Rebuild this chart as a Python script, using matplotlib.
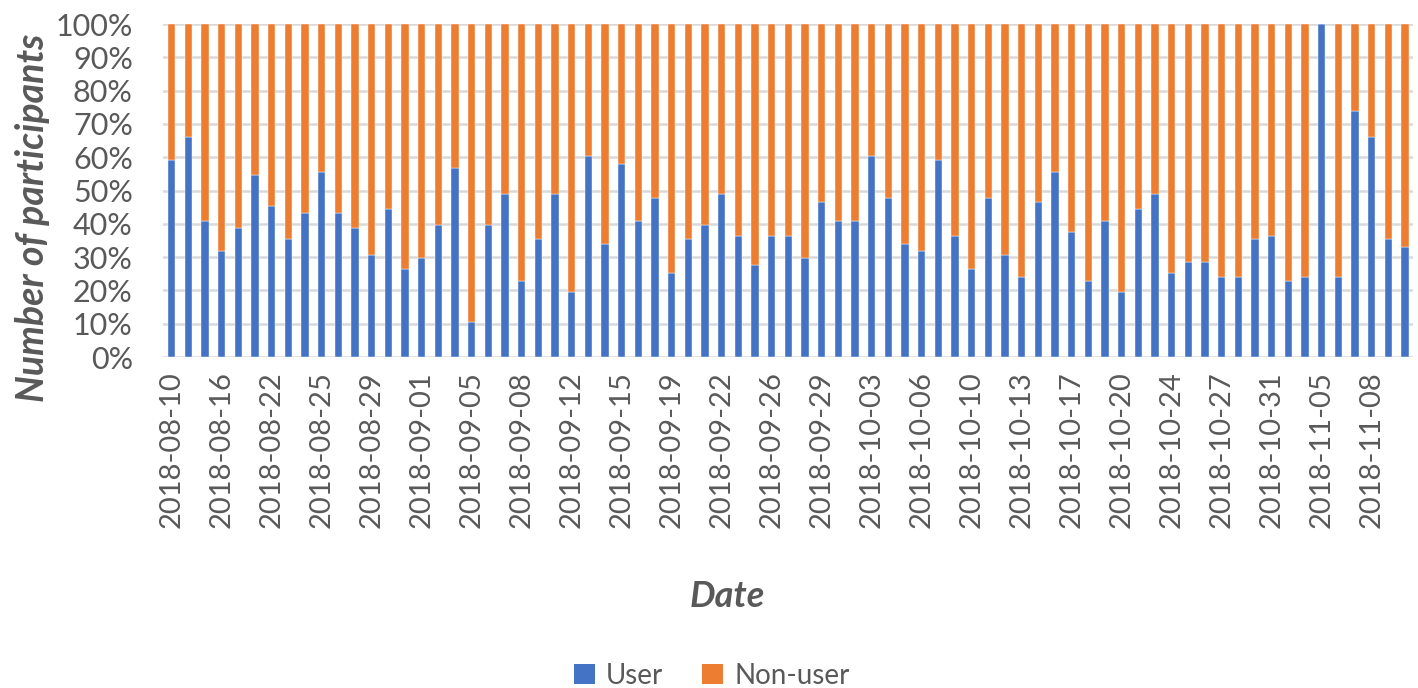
"""
Daily share of users vs non-users among participants, stacked to 100%.
"""

import numpy as np
import matplotlib
matplotlib.use("Agg")
import matplotlib.pyplot as plt
from matplotlib.patches import Patch


# ─────────────────────────────────────────────
# Data
# ─────────────────────────────────────────────

# share of participants who are users, one value per survey day (%)
user_pct = [
    59.2, 66.0, 41.0, 32.0, 38.7, 54.6, 45.5, 35.4, 43.4, 55.7,
    43.4, 38.7, 30.8, 44.4, 26.3, 29.7, 39.8, 56.9, 10.4, 39.8,
    49.0, 22.8, 35.4, 49.0, 19.4, 60.3, 34.1, 58.1, 41.0, 47.9,
    25.1, 35.4, 39.8, 49.0, 36.5, 27.5, 36.5, 36.5, 29.7, 46.7,
    41.0, 41.0, 60.3, 47.9, 34.1, 32.0, 59.2, 36.5, 26.3, 47.9,
    30.8, 24.0, 46.7, 55.7, 37.7, 22.8, 41.0, 19.4, 44.4, 49.0,
    25.1, 28.5, 28.5, 24.0, 24.0, 35.4, 36.5, 22.8, 24.0, 100.0,
    24.0, 74.0, 66.0, 35.4, 33.1,
]
non_user_pct = [100.0 - v for v in user_pct]

# dates shown on the category axis (every third survey day)
date_labels = [
    "2018-08-10", "2018-08-16", "2018-08-22", "2018-08-25", "2018-08-29",
    "2018-09-01", "2018-09-05", "2018-09-08", "2018-09-12", "2018-09-15",
    "2018-09-19", "2018-09-22", "2018-09-26", "2018-09-29", "2018-10-03",
    "2018-10-06", "2018-10-10", "2018-10-13", "2018-10-17", "2018-10-20",
    "2018-10-24", "2018-10-27", "2018-10-31", "2018-11-05", "2018-11-08",
]
label_step = 3

series_names = ["User", "Non-user"]


# ─────────────────────────────────────────────
# Style
# ─────────────────────────────────────────────

BLUE = "#4472C4"
ORANGE = "#ED7D31"
GRID = "#D9D9D9"
TEXT = "#595959"

plt.rcParams["font.family"] = ["Lato", "DejaVu Sans"]


# ─────────────────────────────────────────────
# Plot
# ─────────────────────────────────────────────

def main():
    n = len(user_pct)
    x = np.arange(n)

    fig = plt.figure(figsize=(14.18, 6.88), dpi=100)
    ax = fig.add_axes([0.1152, 0.481, 0.8815, 0.484])

    ax.bar(x, user_pct, width=0.45, color=BLUE, edgecolor="white", linewidth=0.3, zorder=3)
    ax.bar(x, non_user_pct, width=0.45, bottom=user_pct, color=ORANGE,
           edgecolor="white", linewidth=0.3, zorder=3)

    ax.set_xlim(-0.5, n - 0.5)
    ax.set_ylim(0, 100)

    ax.set_yticks(np.arange(0, 101, 10))
    ax.set_yticklabels([f"{v}%" for v in range(0, 101, 10)])
    ax.yaxis.grid(True, color=GRID, linewidth=1.8, zorder=0)
    ax.set_axisbelow(True)

    tick_pos = x[::label_step]
    ax.set_xticks(tick_pos)
    ax.set_xticklabels(date_labels, rotation=90)

    ax.tick_params(axis="both", length=0, colors=TEXT)
    ax.tick_params(axis="x", pad=10, labelsize=21)
    ax.tick_params(axis="y", pad=22, labelsize=22)

    for spine in ax.spines.values():
        spine.set_visible(False)

    fig.text(0.023, 0.683, "Number of participants", fontsize=27, fontweight="bold",
             fontstyle="italic", color=TEXT, ha="center", va="center", rotation=90)
    fig.text(0.513, 0.133, "Date", fontsize=26, fontweight="bold",
             fontstyle="italic", color=TEXT, ha="center", va="center")

    handles = [Patch(facecolor=BLUE), Patch(facecolor=ORANGE)]
    fig.legend(handles, series_names, loc="center", bbox_to_anchor=(0.502, 0.018),
               ncol=2, frameon=False, fontsize=20, labelcolor=TEXT,
               handlelength=0.75, handleheight=0.75, handletextpad=0.4,
               columnspacing=1.4)

    fig.savefig("out.png", dpi=100)
    plt.close(fig)


if __name__ == "__main__":
    main()
